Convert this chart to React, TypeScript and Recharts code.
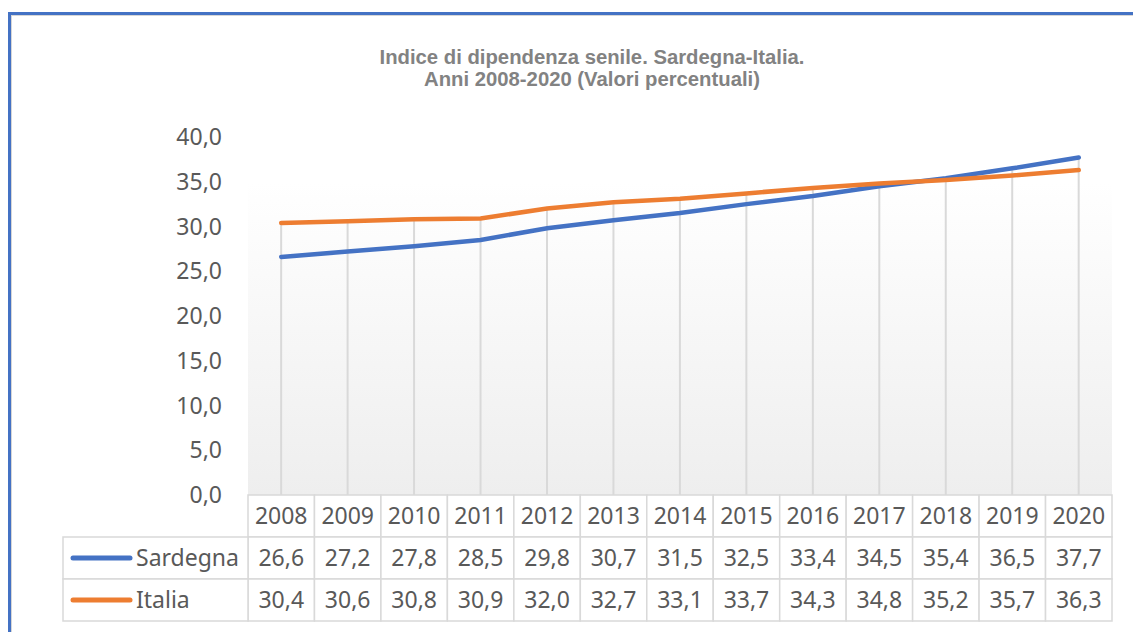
import React from "react";
import {
  ComposedChart,
  Line,
  Bar,
  XAxis,
  YAxis,
  ReferenceArea,
} from "recharts";

const anni = ["2008","2009","2010","2011","2012","2013","2014","2015","2016","2017","2018","2019","2020"];
const sardegna = [26.6, 27.2, 27.8, 28.5, 29.8, 30.7, 31.5, 32.5, 33.4, 34.5, 35.4, 36.5, 37.7];
const italia = [30.4, 30.6, 30.8, 30.9, 32.0, 32.7, 33.1, 33.7, 34.3, 34.8, 35.2, 35.7, 36.3];
const tickY = [0, 5, 10, 15, 20, 25, 30, 35, 40];

const BLU = "#4472c4";
const ARANCIO = "#ed7d31";
const GRIGIO = "#d9d9d9";
const TESTO = "#595959";
const FONT = "'Noto Sans', 'Open Sans', sans-serif";

const W = 1133;
const H = 632;
const X_H = 128;
const M = { top: 137, right: 21, bottom: 137 - X_H, left: 0 };
const Y_W = 248;
const CELLA = (W - Y_W - M.right) / anni.length;
const RIGA = 42;
const LABEL_W = 185;

const dati = anni.map((a, i) => ({
  anno: a,
  sardegna: sardegna[i],
  italia: italia[i],
  top: Math.max(sardegna[i], italia[i]),
}));

const virgola = (v: number) => v.toFixed(1).replace(".", ",");

function DropLine(props: any) {
  const { x, y, width, height } = props;
  const cx = x + width / 2;
  return <line x1={cx} y1={y} x2={cx} y2={y + height} stroke={GRIGIO} strokeWidth={2} />;
}

function Tabella(props: any) {
  const { x, y, payload } = props;
  const i = payload.index ?? props.index;
  const left = x - CELLA / 2;
  const righe = [payload.value, virgola(sardegna[i]), virgola(italia[i])];
  const serie = [
    { nome: "Sardegna", colore: BLU },
    { nome: "Italia", colore: ARANCIO },
  ];
  return (
    <g>
      {righe.map((t, r) => (
        <g key={r}>
          <rect x={left} y={y + r * RIGA} width={CELLA} height={RIGA} fill="#fff" stroke={GRIGIO} strokeWidth={1.5} />
          <text x={x} y={y + r * RIGA + RIGA / 2 + 8} textAnchor="middle" fontFamily={FONT} fontSize={23} fill={TESTO}>
            {t}
          </text>
        </g>
      ))}
      {i === 0 &&
        serie.map((s, r) => {
          const top = y + (r + 1) * RIGA;
          const lx = left - LABEL_W;
          return (
            <g key={s.nome}>
              <rect x={lx} y={top} width={LABEL_W} height={RIGA} fill="#fff" stroke={GRIGIO} strokeWidth={1.5} />
              <line x1={lx + 10} y1={top + RIGA / 2} x2={lx + 67} y2={top + RIGA / 2} stroke={s.colore} strokeWidth={5} strokeLinecap="round" />
              <text x={lx + 73} y={top + RIGA / 2 + 8} fontFamily={FONT} fontSize={23} fill={TESTO}>
                {s.nome}
              </text>
            </g>
          );
        })}
    </g>
  );
}

export default function App() {
  return (
    <div style={{ position: "fixed", left: 0, top: 0, width: W, height: H, overflow: "hidden", background: "#fff" }}>
      <div
        style={{
          position: "absolute",
          left: 8,
          top: 12,
          width: 1300,
          height: 800,
          border: `3px solid ${BLU}`,
          boxShadow: "inset 1px 1px 0 #d6d6d6",
        }}
      />
      <div
        style={{
          position: "absolute",
          left: 0,
          top: 46,
          width: 1184,
          textAlign: "center",
          fontFamily: "'Liberation Sans', Arial, sans-serif",
          fontWeight: "bold",
          fontSize: 20.3,
          lineHeight: "22px",
          color: "#828282",
        }}
      >
        Indice di dipendenza senile. Sardegna-Italia.
        <br />
        Anni 2008-2020 (Valori percentuali)
      </div>
      <div style={{ position: "absolute", left: 0, top: 0 }}>
        <ComposedChart width={W} height={H} data={dati} margin={M}>
          <defs>
            <linearGradient id="sfondo" x1="0" y1="0" x2="0" y2="1">
              <stop offset="0%" stopColor="#ffffff" />
              <stop offset="100%" stopColor="#eeeeee" />
            </linearGradient>
          </defs>
          <XAxis
            dataKey="anno"
            axisLine={false}
            tickLine={false}
            tickSize={0}
            tickMargin={0}
            height={X_H}
            interval={0}
            tick={<Tabella />}
          />
          <YAxis
            domain={[0, 40]}
            ticks={tickY}
            interval={0}
            axisLine={false}
            tickLine={false}
            tickSize={0}
            tickMargin={26}
            width={Y_W}
            tickFormatter={virgola}
            tick={{ fontSize: 23, fill: TESTO, fontFamily: FONT }}
          />
          <ReferenceArea y1={0} y2={35} fill="url(#sfondo)" fillOpacity={1} stroke="none" ifOverflow="extendDomain" />
          <Bar dataKey="top" shape={<DropLine />} isAnimationActive={false} />
          <Line
            type="linear"
            dataKey="sardegna"
            stroke={BLU}
            strokeWidth={4.5}
            strokeLinecap="round"
            dot={false}
            isAnimationActive={false}
          />
          <Line
            type="linear"
            dataKey="italia"
            stroke={ARANCIO}
            strokeWidth={4.5}
            strokeLinecap="round"
            dot={false}
            isAnimationActive={false}
          />
        </ComposedChart>
      </div>
    </div>
  );
}
